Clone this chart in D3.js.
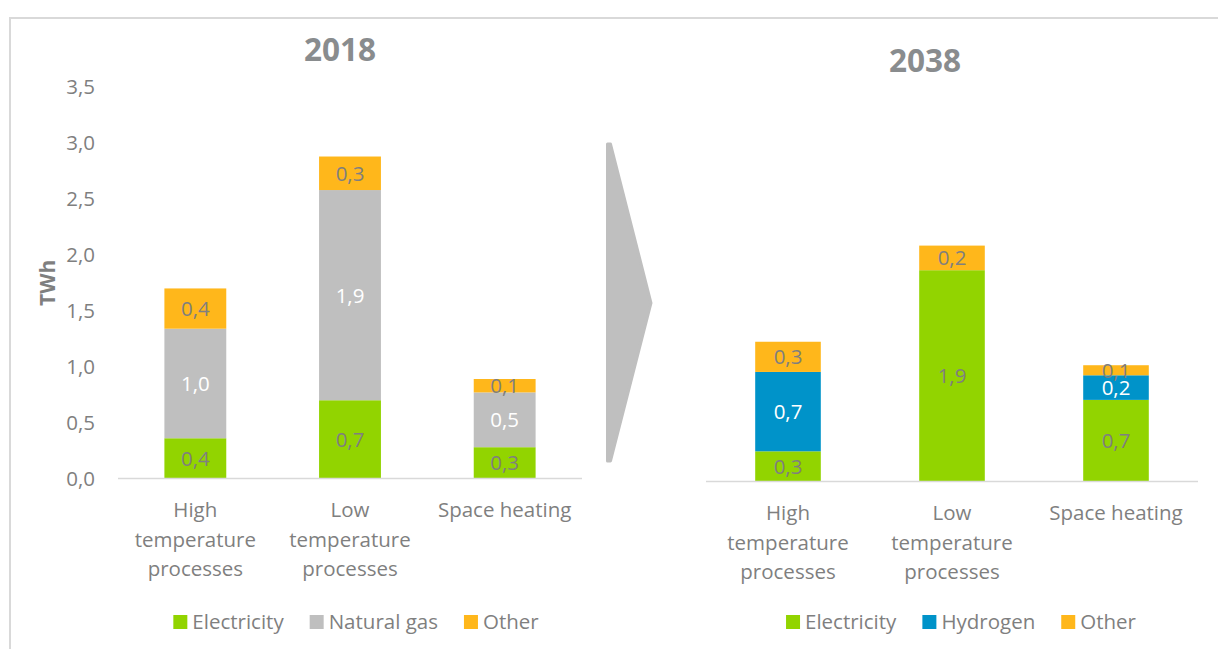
<!DOCTYPE html>
<html>
<head>
<meta charset="utf-8">
<script src="https://cdn.jsdelivr.net/npm/d3@7/dist/d3.min.js"></script>
<style>
  html, body { margin: 0; padding: 0; background: #fff; }
  svg { display: block; font-family: "Open Sans", "Noto Sans", sans-serif; }
</style>
</head>
<body>
<svg id="chart" width="1218" height="649"></svg>
<script>
// ---------- data ----------
const categories = ["High temperature processes", "Low temperature processes", "Space heating"];
const categoryLines = [["High", "temperature", "processes"], ["Low", "temperature", "processes"], ["Space heating"]];

const series2018 = ["Electricity", "Natural gas", "Other"];
const electricity2018 = [0.36, 0.70, 0.28];
const naturalGas2018  = [0.98, 1.88, 0.49];
const other2018       = [0.36, 0.30, 0.12];

const series2038 = ["Electricity", "Hydrogen", "Other"];
const electricity2038 = [0.27, 1.89, 0.73];
const hydrogen2038    = [0.71, 0.00, 0.22];
const other2038       = [0.27, 0.22, 0.09];

const yTicks = [0, 0.5, 1.0, 1.5, 2.0, 2.5, 3.0, 3.5];
const yMax = 3.5;

const colors = { "Electricity": "#92d400", "Natural gas": "#bfbfbf", "Hydrogen": "#0093c9", "Other": "#ffb71b" };
const labelColors = { "Electricity": "#7f7f7f", "Natural gas": "#ffffff", "Hydrogen": "#ffffff", "Other": "#7f7f7f" };

const fmt = v => d3.format(".1f")(v).replace(".", ",");
const textGrey = "#7f7f7f";
const FS = 20.5;

const svg = d3.select("#chart");

// outer frame
svg.append("rect").attr("x", 10).attr("y", 18).attr("width", 1240).attr("height", 660)
  .attr("fill", "none").attr("stroke", "#d9d9d9").attr("stroke-width", 2);

function drawPanel(opts) {
  const { title, titleX, titleY, xRange, yRange, seriesNames, values, showAxis, catY, legendCenter } = opts;
  const x = d3.scaleBand().domain(categories).range(xRange).paddingInner(0.6).paddingOuter(0.3);
  const y = d3.scaleLinear().domain([0, yMax]).range(yRange);
  const g = svg.append("g");

  // title
  g.append("text").attr("x", titleX).attr("y", titleY).attr("text-anchor", "middle")
    .attr("font-size", 31.5).attr("font-weight", "bold").attr("fill", "#898c8e").text(title);

  // y axis labels
  if (showAxis) {
    const ax = g.append("g").attr("transform", `translate(${xRange[0] - 23},0)`)
      .call(d3.axisLeft(y).tickValues(yTicks).tickFormat(fmt).tickSize(0).tickPadding(0));
    ax.select(".domain").remove();
    ax.selectAll("text").attr("font-size", FS).attr("fill", textGrey).attr("font-family", "'Open Sans', sans-serif");
    g.append("text").attr("transform", `translate(55,${(yRange[0] + yRange[1]) / 2}) rotate(-90)`)
      .attr("text-anchor", "middle").attr("font-size", 21).attr("font-weight", "bold").attr("fill", textGrey).text("TWh");
  }

  // stacked data
  const rows = categories.map((c, i) => {
    const r = { cat: c };
    seriesNames.forEach((s, j) => r[s] = values[j][i]);
    return r;
  });
  const stack = d3.stack().keys(seriesNames)(rows);

  stack.forEach(layer => {
    const key = layer.key;
    layer.forEach(d => {
      const v = d[1] - d[0];
      if (v <= 0) return;
      g.append("rect").attr("x", x(d.data.cat)).attr("width", x.bandwidth())
        .attr("y", y(d[1])).attr("height", y(d[0]) - y(d[1])).attr("fill", colors[key]);
    });
  });
  // baseline
  g.append("line").attr("x1", xRange[0]).attr("x2", xRange[1]).attr("y1", y(0)).attr("y2", y(0))
    .attr("stroke", "#d9d9d9").attr("stroke-width", 1.5);
  // data labels
  stack.forEach(layer => {
    const key = layer.key;
    layer.forEach(d => {
      const v = d[1] - d[0];
      if (v <= 0) return;
      g.append("text").attr("x", x(d.data.cat) + x.bandwidth() / 2).attr("y", (y(d[0]) + y(d[1])) / 2)
        .attr("dy", "0.36em").attr("text-anchor", "middle").attr("font-size", FS)
        .attr("fill", labelColors[key]).text(fmt(v));
    });
  });

  // category labels
  categories.forEach((c, i) => {
    const t = g.append("text").attr("text-anchor", "middle").attr("font-size", FS).attr("fill", textGrey);
    categoryLines[i].forEach((line, k) => {
      t.append("tspan").attr("x", x(c) + x.bandwidth() / 2).attr("y", catY + k * 29.5).text(line);
    });
  });

  // legend
  const lg = g.append("g");
  let cx = 0;
  seriesNames.forEach((s) => {
    const it = lg.append("g").attr("transform", `translate(${cx},0)`);
    it.append("rect").attr("x", 0).attr("y", -7).attr("width", 14).attr("height", 14).attr("fill", colors[s]);
    const t = it.append("text").attr("x", 19).attr("y", 0).attr("dy", "0.36em").attr("font-size", FS)
      .attr("fill", textGrey).text(s);
    cx += 19 + t.node().getComputedTextLength() + 26;
  });
  const total = cx - 26;
  lg.attr("transform", `translate(${legendCenter - total / 2},622)`);
}

drawPanel({
  title: "2018", titleX: 340, titleY: 61,
  xRange: [118, 582], yRange: [478.5, 87.2],
  seriesNames: series2018, values: [electricity2018, naturalGas2018, other2018],
  showAxis: true, catY: 517, legendCenter: 356
});
drawPanel({
  title: "2038", titleX: 925, titleY: 72,
  xRange: [706, 1198], yRange: [481.5, 90.2],
  seriesNames: series2038, values: [electricity2038, hydrogen2038, other2038],
  showAxis: false, catY: 520, legendCenter: 961
});

// arrow
svg.append("path")
  .attr("d", "M607.5,144 L610.5,144 L651,303 L610.5,461 L607.5,461 Z")
  .attr("fill", "#bfbfbf").attr("stroke", "#bfbfbf").attr("stroke-width", 3).attr("stroke-linejoin", "round");
</script>
</body>
</html>
